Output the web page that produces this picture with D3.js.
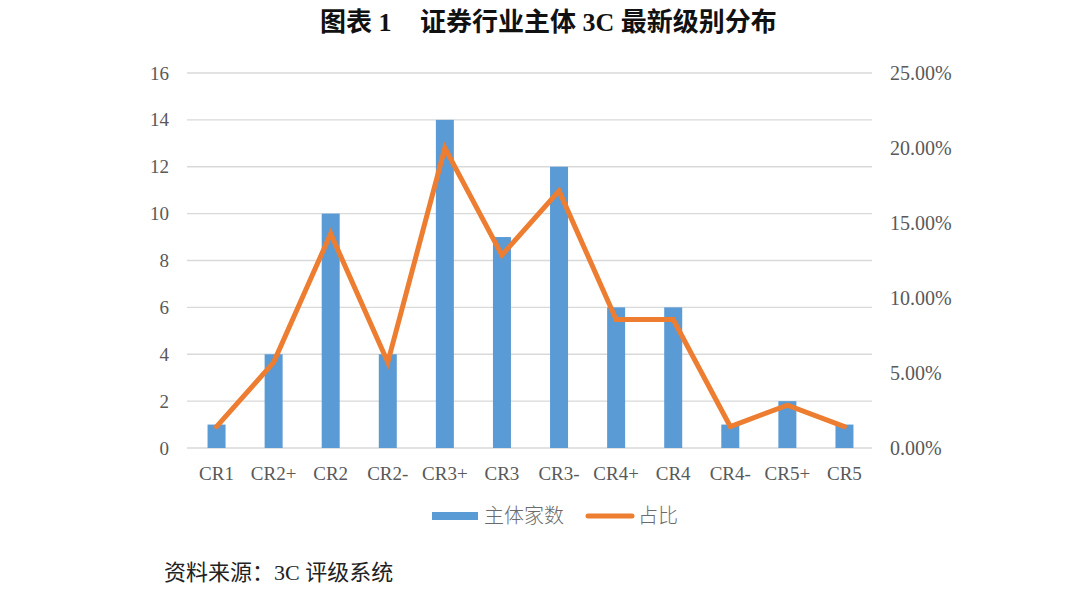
<!DOCTYPE html>
<html><head><meta charset="utf-8">
<script src="https://cdn.jsdelivr.net/npm/d3@7"></script>
<style>body{margin:0;background:#fff}</style>
</head><body>
<svg id="c" width="1080" height="591"></svg>
<script>
const categories = ["CR1","CR2+","CR2","CR2-","CR3+","CR3","CR3-","CR4+","CR4","CR4-","CR5+","CR5"];
const counts = [1,4,10,4,14,9,12,6,6,1,2,1];
const shares = [0.0143,0.0571,0.1429,0.0571,0.2000,0.1286,0.1714,0.0857,0.0857,0.0143,0.0286,0.0143];
const leftTicks = [0,2,4,6,8,10,12,14,16];
const rightTicks = [0,0.05,0.10,0.15,0.20,0.25];

const svg = d3.select("#c");
const m = {l:187, r:872, t:73, b:448};
const x = d3.scaleBand().domain(categories).range([m.l, m.r]);
const yL = d3.scaleLinear().domain([0,16]).range([m.b, m.t]);
const yR = d3.scaleLinear().domain([0,0.25]).range([m.b, m.t]);
const serif = "'Liberation Serif','Times New Roman',serif";
const cjk = "'Liberation Serif','Noto Sans CJK SC',serif";

// title
const title = svg.append("text").attr("y",31)
  .attr("font-family",cjk).attr("font-weight","bold").attr("font-size",26).attr("fill","#111");
title.append("tspan").attr("x",320).text("图表 1");
title.append("tspan").attr("x",420).text("证券行业主体 3C 最新级别分布");

// gridlines
svg.append("g").selectAll("line").data(leftTicks.filter(d=>d>0)).join("line")
  .attr("x1",m.l).attr("x2",m.r).attr("y1",d=>yL(d)).attr("y2",d=>yL(d))
  .attr("stroke","#d9d9d9").attr("stroke-width",1.3);

// left axis
const gL = svg.append("g").attr("transform",`translate(${m.l},0)`)
  .call(d3.axisLeft(yL).tickValues(leftTicks).tickSize(0).tickPadding(18));
gL.select(".domain").remove();
gL.selectAll("text").attr("font-family",serif).attr("font-size",19).attr("fill","#595959");

// right axis
const gR = svg.append("g").attr("transform",`translate(${m.r},0)`)
  .call(d3.axisRight(yR).tickValues(rightTicks).tickFormat(d3.format(".2%")).tickSize(0).tickPadding(18));
gR.select(".domain").remove();
gR.selectAll("text").attr("font-family",serif).attr("font-size",20).attr("fill","#595959");

// baseline
svg.append("line").attr("x1",m.l).attr("x2",m.r).attr("y1",m.b).attr("y2",m.b)
  .attr("stroke","#d9d9d9").attr("stroke-width",1.3);

// bars
const bw = 18;
svg.append("g").selectAll("rect").data(categories).join("rect")
  .attr("x",d=>x(d)+x.bandwidth()/2-bw/2+1).attr("width",bw)
  .attr("y",(d,i)=>yL(counts[i])).attr("height",(d,i)=>m.b-yL(counts[i]))
  .attr("fill","#5B9BD5");

// line
const line = d3.line().x((d,i)=>x(categories[i])+x.bandwidth()/2+1).y(d=>yR(d));
svg.append("path").datum(shares).attr("d",line).attr("fill","none")
  .attr("stroke","#ED7D31").attr("stroke-width",5).attr("stroke-linejoin","miter").attr("stroke-linecap","round");

// x labels
svg.append("g").selectAll("text").data(categories).join("text")
  .attr("x",d=>x(d)+x.bandwidth()/2+1).attr("y",480).attr("text-anchor","middle")
  .attr("font-family",serif).attr("font-size",19).attr("fill","#595959").text(d=>d);

// legend
const lg = svg.append("g");
lg.append("rect").attr("x",432).attr("y",512).attr("width",46).attr("height",8).attr("fill","#5B9BD5");
lg.append("text").attr("x",484).attr("y",523).attr("font-family","'Noto Sans CJK SC',sans-serif")
  .attr("font-size",20).attr("font-weight",300).attr("fill","#6b6b6b").text("主体家数");
lg.append("line").attr("x1",588).attr("x2",632).attr("y1",516).attr("y2",516)
  .attr("stroke","#ED7D31").attr("stroke-width",5).attr("stroke-linecap","round");
lg.append("text").attr("x",638).attr("y",523).attr("font-family","'Noto Sans CJK SC',sans-serif")
  .attr("font-size",20).attr("font-weight",300).attr("fill","#6b6b6b").text("占比");

// source
svg.append("text").attr("x",164).attr("y",580).attr("font-family",cjk)
  .attr("font-size",22).attr("fill","#222").text("资料来源：3C 评级系统");
</script>
</body></html>
